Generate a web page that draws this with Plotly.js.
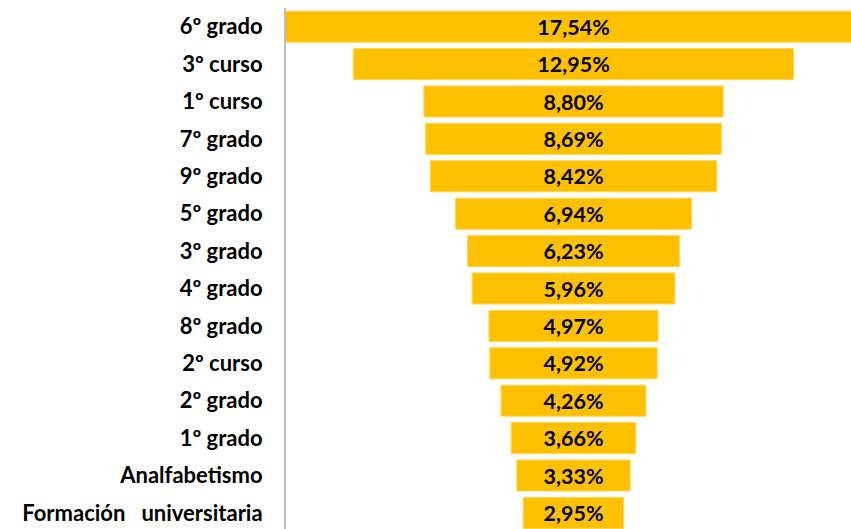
<!DOCTYPE html>
<html>
<head>
<meta charset="utf-8">
<script src="https://cdn.plot.ly/plotly-3.0.1.min.js"></script>
<style>html,body{margin:0;padding:0;background:#fff;}#chart{width:851px;height:529px;}</style>
</head>
<body>
<div id="chart"></div>
<script>
const categories = ["6º grado","3º curso","1º curso","7º grado","9º grado","5º grado","3º grado","4º grado","8º grado","2º curso","2º grado","1º grado","Analfabetismo","Formación&nbsp;&nbsp;&nbsp;universitaria"];
const values = [17.54,12.95,8.80,8.69,8.42,6.94,6.23,5.96,4.97,4.92,4.26,3.66,3.33,2.95];
const labels = values.map(v => v.toFixed(2).replace('.', ',') + '%');

const trace = {
  type: 'funnel',
  y: categories,
  x: values,
  text: labels,
  textinfo: 'text',
  textposition: 'inside',
  insidetextanchor: 'middle',
  textangle: 0,
  constraintext: 'none',
  textfont: {family: 'Lato, "Noto Sans", sans-serif', size: 21.5, color: '#000', weight: 'bold'},
  marker: {color: '#FFC000', line: {color: '#FFD54D', width: 1}},
  connector: {visible: false},
  hoverinfo: 'skip'
};

const layout = {
  width: 851, height: 529,
  margin: {l: 286, r: 0, t: 8, b: 0, pad: 0},
  paper_bgcolor: '#fff', plot_bgcolor: '#fff',
  showlegend: false,
  funnelgap: 0.17,
  xaxis: {visible: false, range: [-8.456, 8.162], fixedrange: true},
  yaxis: {
    type: 'category',
    range: [13.43, -0.5],
    showline: true, linecolor: '#BFBFBF', linewidth: 2,
    showgrid: false, zeroline: false,
    ticks: '', ticklabelstandoff: 17,
    tickfont: {family: 'Lato, "Noto Sans", sans-serif', size: 22, color: '#000', weight: 'bold'}
  }
};

Plotly.newPlot('chart', [trace], layout, {staticPlot: true, displayModeBar: false});
</script>
</body>
</html>
